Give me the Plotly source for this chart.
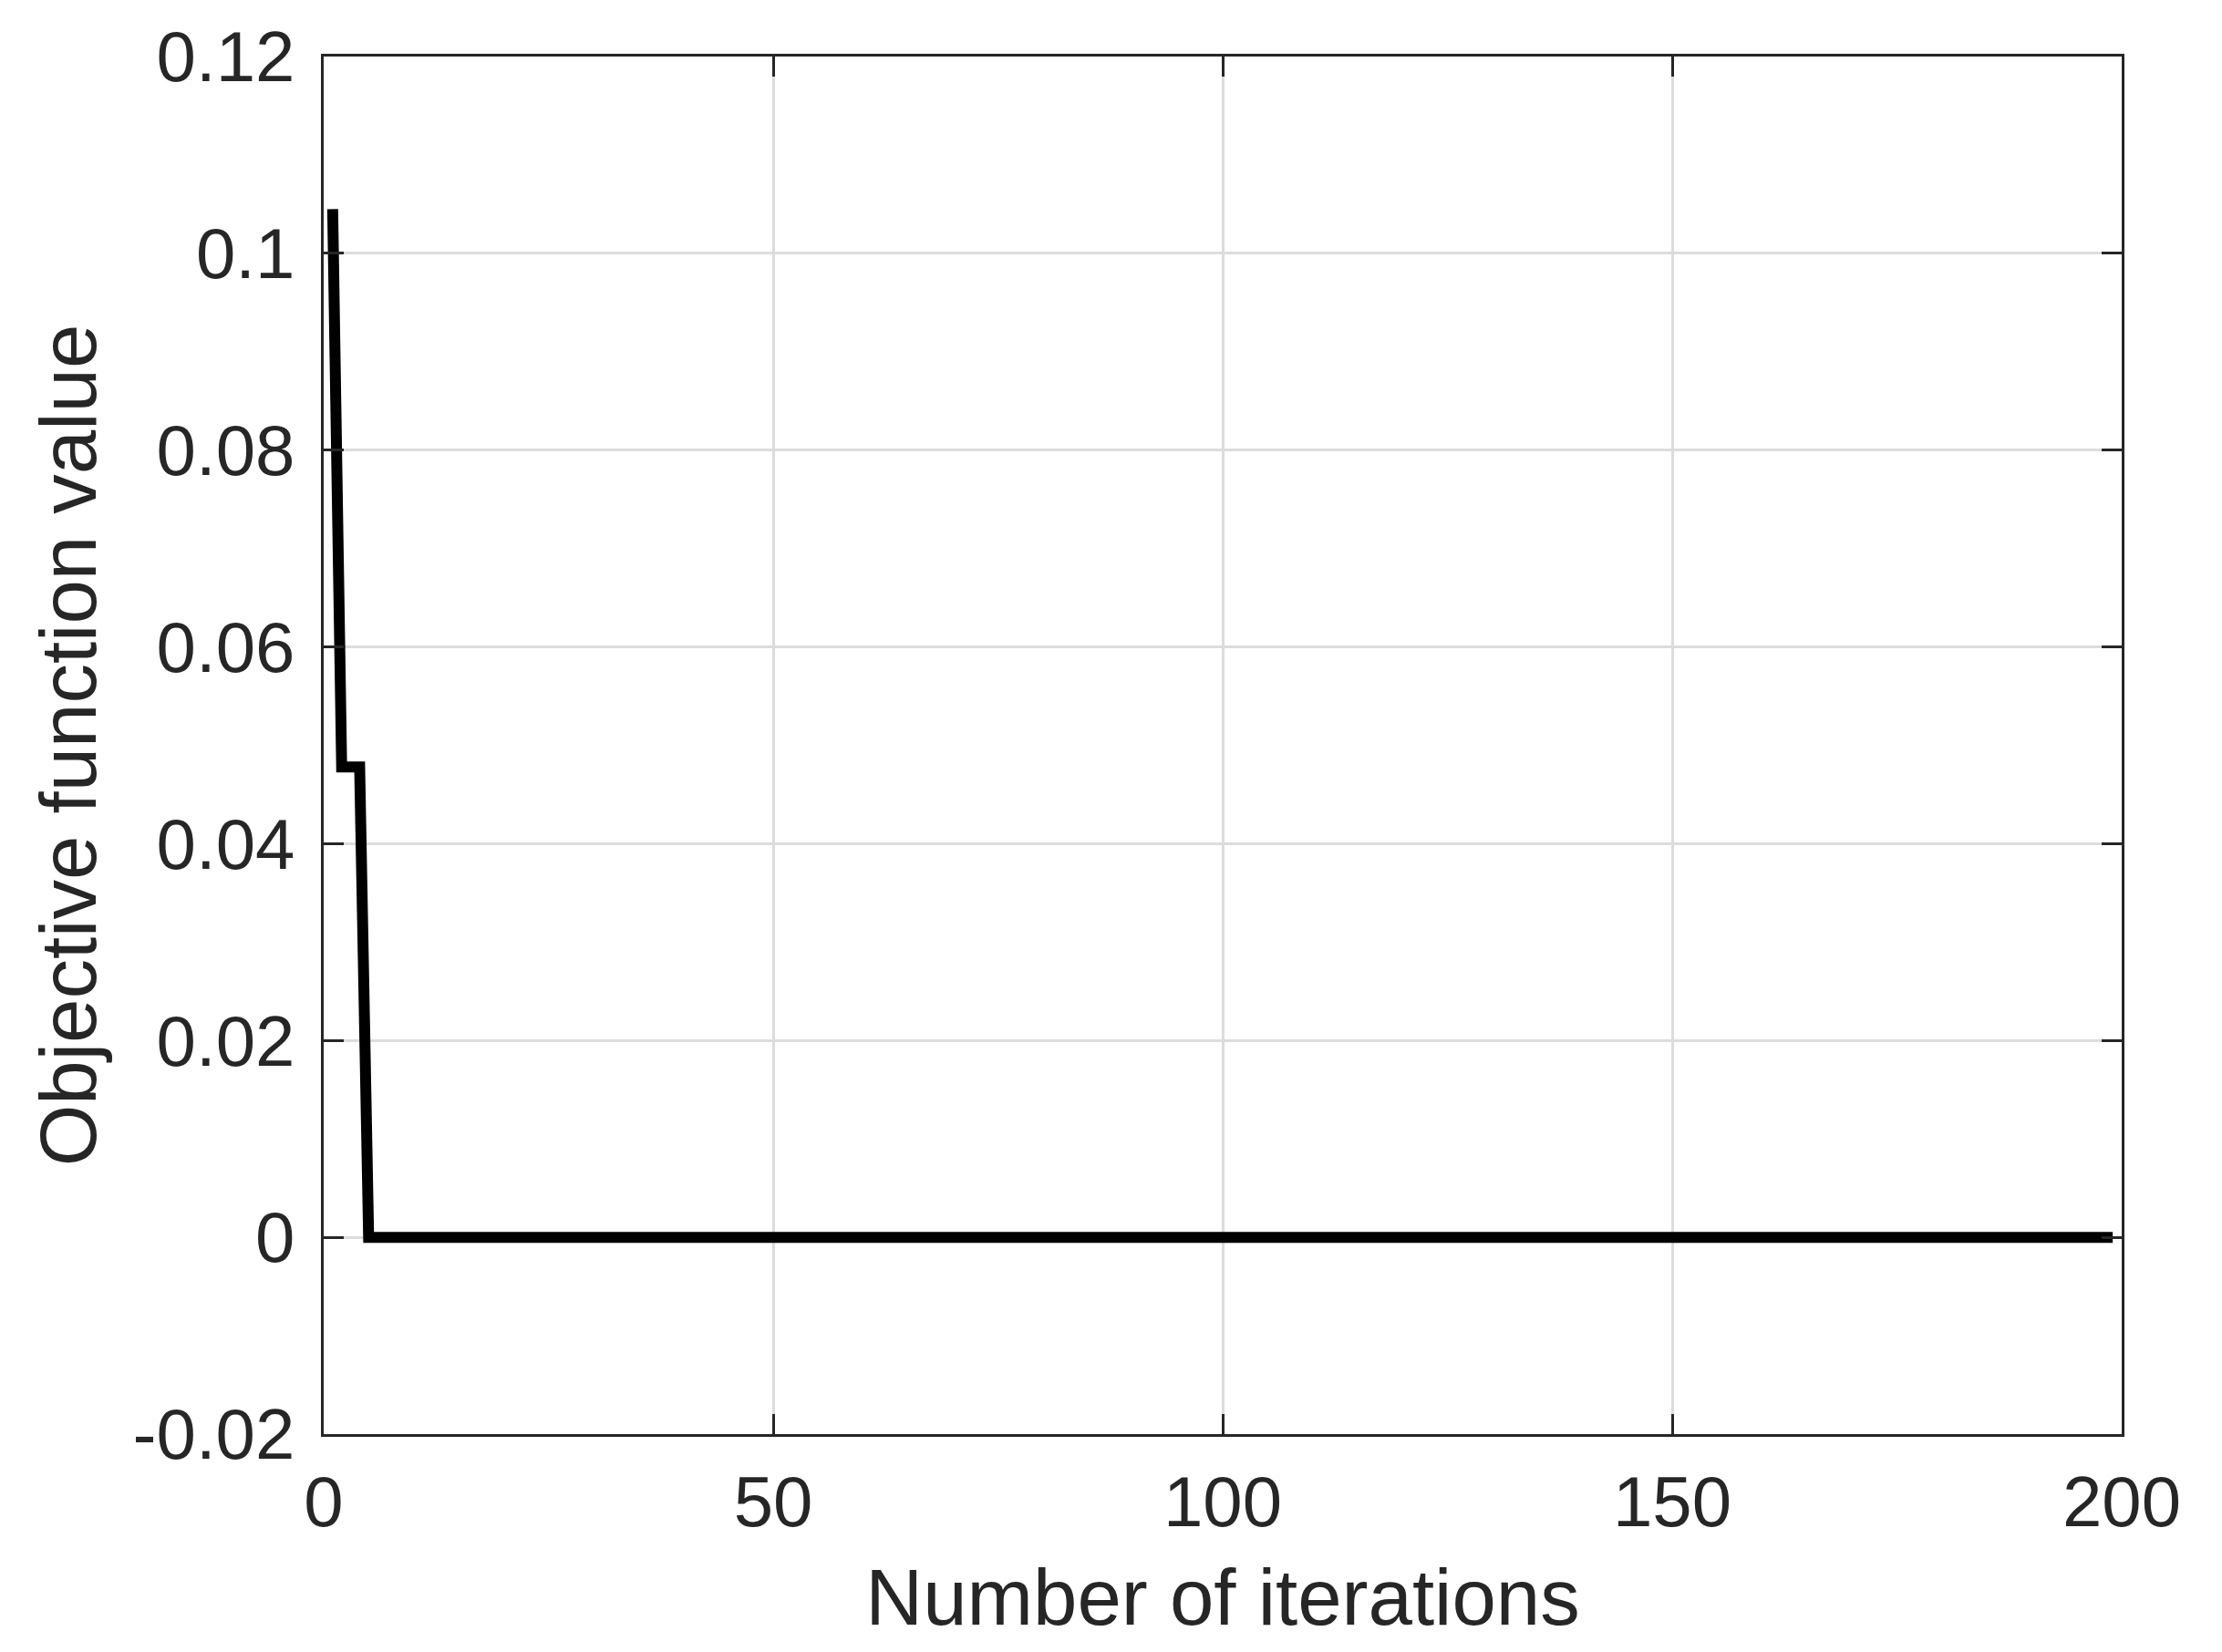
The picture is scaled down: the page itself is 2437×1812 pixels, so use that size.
import plotly.graph_objects as go

# Data
iterations = list(range(1, 200))
objective_values = [0.1045, 0.0478, 0.0478, 0.0478] + [0.0] * 195

y_tick_vals = [-0.02, 0, 0.02, 0.04, 0.06, 0.08, 0.1, 0.12]
y_tick_text = ["-0.02", "0", "0.02", "0.04", "0.06", "0.08", "0.1", "0.12"]
x_tick_vals = [0, 50, 100, 150, 200]
x_tick_text = ["0", "50", "100", "150", "200"]

AX = "#262626"
GRID = "#dcdcdc"
FONT = "Liberation Sans, Arial, Helvetica, sans-serif"

fig = go.Figure()
fig.add_trace(go.Scatter(
    x=iterations, y=objective_values, mode="lines",
    line=dict(color="#000000", width=12), showlegend=False,
))

# page body has an 8px default margin, compensate
fig.update_layout(
    width=2437, height=1812,
    margin=dict(l=347, r=118, t=54, b=247, autoexpand=False),
    paper_bgcolor="white", plot_bgcolor="white",
    font=dict(family=FONT, color=AX, size=78),
)

common = dict(
    showline=True, linecolor=AX, linewidth=3, mirror="ticks",
    ticks="inside", ticklen=22, tickwidth=3, tickcolor=AX,
    showgrid=True, gridcolor=GRID, gridwidth=3,
    zeroline=False, automargin=False,
    tickfont=dict(family=FONT, size=78, color=AX),
)

fig.update_xaxes(
    range=[0, 200], tickvals=x_tick_vals, ticktext=x_tick_text,
    title=dict(text="Number of iterations", font=dict(family=FONT, size=87, color=AX), standoff=32),
    ticklabelstandoff=4,
    **common,
)
fig.update_yaxes(
    range=[-0.02, 0.12], tickvals=y_tick_vals, ticktext=y_tick_text,
    title=dict(text="Objective function value", font=dict(family=FONT, size=87, color=AX), standoff=12),
    ticklabelstandoff=13,
    **common,
)

fig.write_html("out.html")
